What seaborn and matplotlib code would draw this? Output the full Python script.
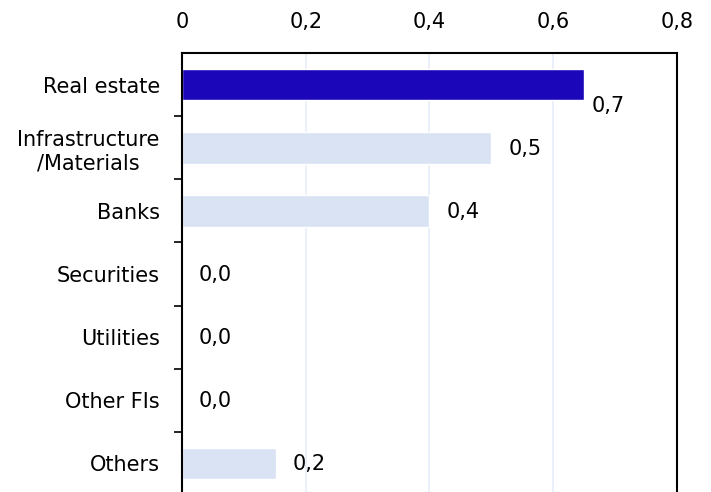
import matplotlib
matplotlib.use("Agg")
import matplotlib.pyplot as plt
import seaborn as sns
import pandas as pd
from matplotlib.ticker import FixedLocator

sectors = ["Real estate", "Infrastructure\n/Materials", "Banks", "Securities",
           "Utilities", "Other FIs", "Others"]
values = [0.65, 0.50, 0.40, 0.0, 0.0, 0.0, 0.152]
x_ticks = [0, 0.2, 0.4, 0.6, 0.8]
x_tick_labels = ["0", "0,2", "0,4", "0,6", "0,8"]

highlight = "#1C06B9"
base = "#DAE3F3"
colors = [highlight] + [base] * (len(sectors) - 1)

df = pd.DataFrame({"sector": sectors, "value": values})

sns.set_style("white")
plt.rcParams["font.family"] = ["DejaVu Sans"]
plt.rcParams["text.color"] = "black"
plt.rcParams["xtick.color"] = "black"
plt.rcParams["ytick.color"] = "black"
plt.rcParams["axes.labelcolor"] = "black"

fig = plt.figure(figsize=(7.11, 4.92), dpi=100)
ax = fig.add_axes([0.256, -0.006, 0.696, 0.898])

sns.barplot(data=df, y="sector", x="value", hue="sector", palette=colors,
            legend=False, width=0.5, orient="h", ax=ax, saturation=1)

ax.set_xlim(0, 0.8)
ax.set_ylim(len(sectors) - 0.5, -0.5)
ax.set_xlabel("")
ax.set_ylabel("")

# value axis on top, no tick marks
ax.xaxis.tick_top()
ax.set_xticks(x_ticks)
ax.set_xticklabels(x_tick_labels, fontsize=15, color="black")
ax.tick_params(axis="x", length=0, pad=15)

# category labels; tick marks sit between categories
ax.tick_params(axis="y", which="major", length=0, pad=16, labelsize=15,
               labelcolor="black")
for lbl in ax.get_yticklabels():
    lbl.set_linespacing(1.25)
    lbl.set_horizontalalignment("right")
    lbl.set_multialignment("center")
ax.yaxis.set_minor_locator(FixedLocator([i + 0.5 for i in range(len(sectors) - 1)]))
ax.tick_params(axis="y", which="minor", length=6, width=1.2, color="black",
               direction="out", left=True)

# vertical gridlines
for xv in x_ticks[1:-1]:
    ax.axvline(xv, color="#E6EEF8", linewidth=1.2, zorder=0)
ax.set_axisbelow(True)

for side in ["top", "left", "right", "bottom"]:
    ax.spines[side].set_visible(True)
    ax.spines[side].set_color("black")
    ax.spines[side].set_linewidth(1.5)

# value labels
for i, v in enumerate(values):
    txt = f"{v:.1f}".replace(".", ",")
    if i == 0:
        ax.annotate(txt, (v, i), xytext=(8, -21), textcoords="offset pixels",
                    ha="left", va="center", fontsize=15, color="black")
    else:
        ax.annotate(txt, (v, i), xytext=(17, -1), textcoords="offset pixels",
                    ha="left", va="center", fontsize=15, color="black")

fig.savefig("out.png", dpi=100)
